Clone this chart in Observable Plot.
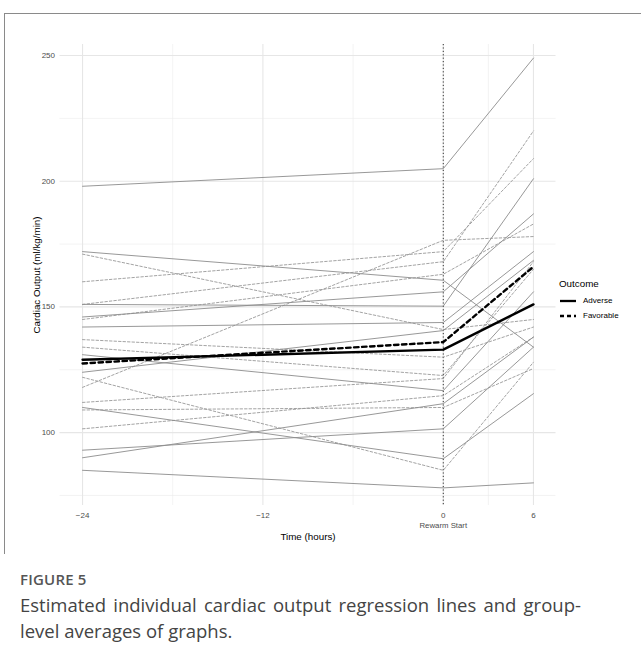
<!DOCTYPE html>
<html><head><meta charset="utf-8">
<script src="https://cdn.jsdelivr.net/npm/d3@7"></script>
<script src="https://cdn.jsdelivr.net/npm/@observablehq/plot@0.6"></script>
<style>
body{margin:0;background:#fff;}
#wrap{position:relative;width:641px;height:646px;overflow:hidden;font-family:"Liberation Sans",Arial,sans-serif;}
#frame{position:absolute;left:4px;top:13px;width:700px;height:540px;border-top:1.5px solid #8a8a8a;border-left:1.5px solid #8a8a8a;}
#chart{position:absolute;left:0;top:0;}
.ttl{position:absolute;font-size:9.8px;color:#000;white-space:nowrap;}
#ylab{left:36px;top:275px;transform:translate(-50%,-50%) rotate(-90deg);}
#xlab{left:308px;top:536px;transform:translate(-50%,-50%);}
#legend{position:absolute;left:559px;top:278px;font-size:8px;color:#000;}
#legend .h{font-size:9.8px;margin-bottom:4px;}
#legend .r{display:flex;align-items:center;height:15px;}
#legend svg{margin-right:6px;}
#figlab{position:absolute;left:20px;top:569px;font-family:"Open Sans","Noto Sans",sans-serif;font-size:15px;font-weight:600;color:#555;letter-spacing:0.2px;}
#cap{position:absolute;left:20px;top:592px;width:561px;font-family:"Open Sans","Noto Sans",sans-serif;font-size:18.5px;line-height:25.5px;color:#444;}
#cap .l1{display:flex;justify-content:space-between;white-space:nowrap;}
</style>
</head><body>
<div id="wrap">
  <div id="frame"></div>
  <div id="chart"></div>
  <div class="ttl" id="ylab">Cardiac Output (ml/kg/min)</div>
  <div class="ttl" id="xlab">Time (hours)</div>
  <div id="legend">
    <div class="h">Outcome</div>
    <div class="r"><svg width="18" height="6"><line x1="1" y1="3" x2="17" y2="3" stroke="#000" stroke-width="2.3"/></svg>Adverse</div>
    <div class="r"><svg width="18" height="6"><line x1="1" y1="3" x2="17" y2="3" stroke="#000" stroke-width="2.3" stroke-dasharray="4,3"/></svg>Favorable</div>
  </div>
  <div id="figlab">FIGURE 5</div>
  <div id="cap"><div class="l1"><span>Estimated</span><span>individual</span><span>cardiac</span><span>output</span><span>regression</span><span>lines</span><span>and</span><span>group-</span></div><div>level averages of graphs.</div></div>
</div>
<script>
// time points (hours)
const times = [-24, 0, 6];
// tick labels
const xTicks = [-24, -12, 0, 6];
const xMinor = [-18, -6, 3];
const yTicks = [100, 150, 200, 250];
const yMinor = [75, 125, 175, 225];
// individual regression lines: values at -24, 0, 6
const adverseLines = [
  [198, 205, 249],
  [172, 160.6, 134],
  [151, 150.3, 201],
  [146, 156, 187],
  [142, 143.8, 172],
  [124, 140.6, 168.5],
  [131, 116.7, 156],
  [110, 89.6, 115.5],
  [93, 101.5, 134],
  [90, 111.5, 138],
  [85, 78, 80]
];
const favorableLines = [
  [171, 141, 145],
  [160, 172, 209],
  [151, 168, 220],
  [145, 163, 183],
  [137, 130, 142],
  [134, 122.7, 165],
  [122, 85, 128],
  [118, 176.5, 178],
  [112, 121.5, 168],
  [109, 110, 125.5],
  [101.5, 114.7, 138]
];
// group-level averages
const adverseMean = [129, 133, 151];
const favorableMean = [127.5, 136, 166];

function toRows(lines, group) {
  const rows = [];
  lines.forEach((vals, i) => vals.forEach((v, j) => rows.push({id: group + i, t: times[j], v})));
  return rows;
}
const advRows = toRows(adverseLines, "A");
const favRows = toRows(favorableLines, "F");
const advMeanRows = adverseMean.map((v, j) => ({t: times[j], v}));
const favMeanRows = favorableMean.map((v, j) => ({t: times[j], v}));

const chart = Plot.plot({
  width: 641,
  height: 550,
  marginLeft: 59.5,
  marginRight: 85.5,
  marginTop: 44,
  marginBottom: 45,
  style: {fontFamily: "'Liberation Sans', Arial, sans-serif", background: "transparent"},
  x: {domain: [-25.5, 7.5]},
  y: {domain: [71, 254.4]},
  marks: [
    Plot.gridX(xMinor, {stroke: "#ebebeb", strokeOpacity: 1, strokeWidth: 0.6}),
    Plot.gridY(yMinor, {stroke: "#ebebeb", strokeOpacity: 1, strokeWidth: 0.6}),
    Plot.gridX(xTicks, {stroke: "#e6e6e6", strokeOpacity: 1, strokeWidth: 1.1}),
    Plot.gridY(yTicks, {stroke: "#e6e6e6", strokeOpacity: 1, strokeWidth: 1.1}),
    Plot.ruleX([0], {stroke: "#333", strokeWidth: 1, strokeDasharray: "1.2,2.2"}),
    Plot.line(favRows, {x: "t", y: "v", z: "id", stroke: "#999", strokeWidth: 0.9, strokeDasharray: "2.5,2"}),
    Plot.line(advRows, {x: "t", y: "v", z: "id", stroke: "#8c8c8c", strokeWidth: 0.9}),
    Plot.line(advMeanRows, {x: "t", y: "v", stroke: "#000", strokeWidth: 2.4}),
    Plot.line(favMeanRows, {x: "t", y: "v", stroke: "#000", strokeWidth: 2.4, strokeDasharray: "4.5,3.5"}),
    Plot.axisX(xTicks, {tickSize: 0, tickPadding: 7, fontSize: 8, fill: "#4d4d4d", label: null}),
    Plot.axisY(yTicks, {tickSize: 0, tickPadding: 5, fontSize: 8, fill: "#4d4d4d", label: null}),
    Plot.text(["Rewarm Start"], {x: () => 0, frameAnchor: "bottom", dy: 22, fontSize: 7.8, fill: "#4d4d4d"})
  ]
});
document.getElementById("chart").appendChild(chart);
</script>
</body></html>
